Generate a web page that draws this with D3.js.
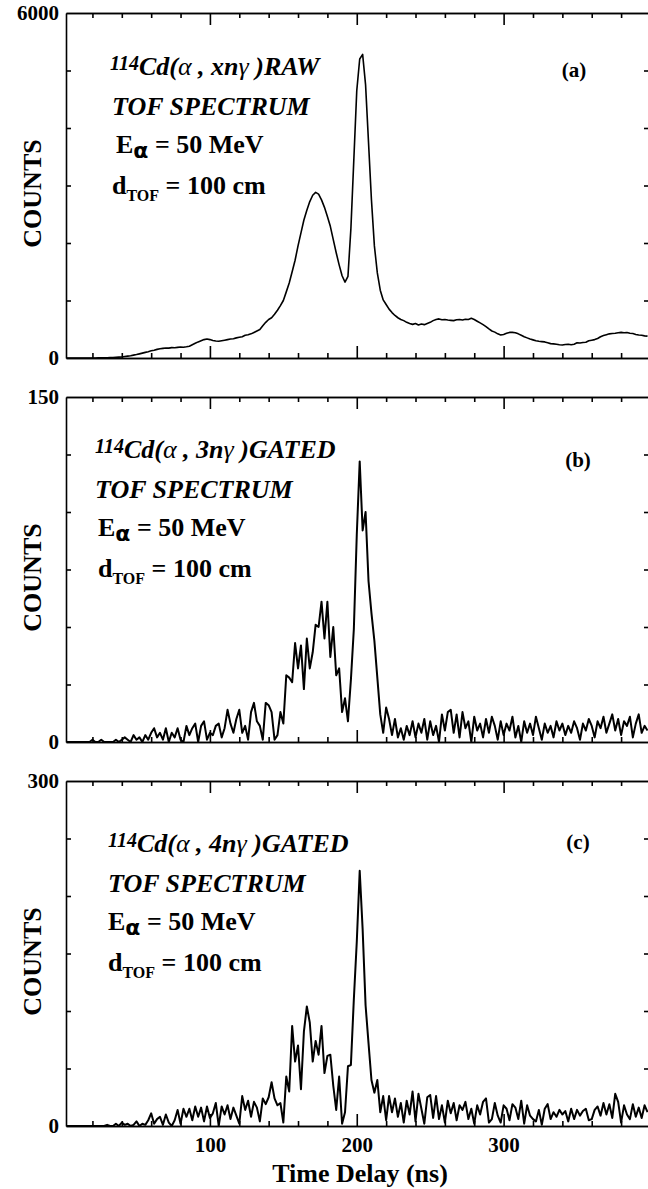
<!DOCTYPE html>
<html>
<head>
<meta charset="utf-8">
<script src="https://cdn.jsdelivr.net/npm/d3@7"></script>
<style>
  body { margin: 0; background: #fff; }
  svg { display: block; font-family: "Liberation Serif", "Times New Roman", serif; }
</style>
</head>
<body>
<div id="chart"></div>
<script>
// counts per 2 ns bin, first bin centred at 2 ns
const binStart = 2;
const binWidth = 2;

const countsRaw = [
  0, 0, 0, 0, 0, 0, 0, 0, 0, 0,
  0, 2, 3, 4, 5, 6, 8, 12, 15, 18,
  25, 32, 40, 50, 60, 72, 85, 98, 110, 125,
  135, 150, 160, 168, 175, 172, 180, 178, 185, 190,
  188, 195, 205, 230, 255, 280, 300, 320, 330, 320,
  305, 295, 290, 300, 310, 320, 330, 335, 350, 360,
  370, 395, 405, 420, 445, 470, 495, 560, 620, 670,
  700, 760, 830, 910, 1000, 1150, 1305, 1500, 1700, 1950,
  2175, 2400, 2570, 2720, 2830, 2880, 2850, 2750, 2620, 2460,
  2290, 2060, 1830, 1620, 1430, 1320, 1420, 2250, 3450, 4650,
  5200, 5280, 4750, 3750, 2750, 1950, 1480, 1180, 1010, 930,
  850, 790, 740, 700, 670, 650, 620, 600, 585, 600,
  575, 590, 580, 600, 620, 650, 670, 680, 665, 670,
  660, 655, 650, 665, 670, 660, 675, 670, 690, 670,
  640, 610, 580, 545, 505, 470, 450, 420, 400, 410,
  430, 445, 445, 440, 420, 395, 370, 350, 330, 315,
  300, 290, 285, 280, 265, 250, 245, 240, 230, 225,
  235, 240, 230, 240, 265, 262, 270, 275, 300, 310,
  320, 340, 370, 390, 405, 420, 425, 430, 440, 445,
  440, 442, 430, 425, 410, 400, 395, 385, 380
];

const counts3n = [
  0, 0, 0, 0, 0, 0, 0, 0, 0, 1,
  0, 0, 1, 0, 0, 0, 0, 1, 0, 1,
  2, 1, 0, 3, 1, 2, 0, 3, 1, 4,
  6, 2, 4, 1, 6, 0, 4, 2, 6, 1,
  0, 7, 3, 6, 8, 0, 7, 9, 1, 4,
  3, 7, 8, 2, 6, 14, 8, 4, 10, 14,
  4, 7, 1, 13, 17, 9, 7, 1, 17, 16,
  13, 1, 3, 13, 8, 29, 28, 26, 43, 32,
  42, 23, 45, 32, 39, 51, 50, 61, 45, 61,
  37, 50, 29, 32, 13, 19, 9, 27, 49, 90,
  122, 92, 100, 70, 56, 44, 28, 12, 4, 15,
  10, 3, 10, 2, 6, 1, 7, 3, 9, 2,
  8, 4, 10, 1, 9, 3, 7, 0, 12, 5,
  13, 14, 4, 12, 2, 13, 6, 9, 0, 11,
  5, 8, 2, 10, 4, 11, 7, 1, 9, 3,
  8, 5, 11, 2, 7, 0, 9, 4, 8, 3,
  11, 6, 1, 8, 4, 7, 2, 9, 5, 8,
  3, 7, 4, 9, 6, 1, 8, 5, 10, 7,
  2, 9, 6, 11, 4, 8, 12, 5, 10, 3,
  9, 7, 11, 2, 8, 12, 4, 7, 5
];

const counts4n = [
  0, 0, 0, 0, 0, 0, 0, 0, 0, 0,
  0, 0, 0, 0, 1, 0, 0, 2, 0, 3,
  1, 2, 0, 1, 4, 0, 2, 1, 5, 11,
  2, 6, 8, 1, 10, 3, 0, 5, 14, 2,
  15, 8, 15, 5, 17, 8, 16, 4, 17, 7,
  11, 20, 0, 17, 10, 18, 6, 16, 9, 2,
  26, 14, 22, 8, 21, 16, 4, 24, 19, 25,
  38, 24, 18, 20, 3, 43, 30, 87, 56, 70,
  32, 82, 104, 90, 56, 74, 62, 87, 46, 61,
  62, 35, 14, 43, 2, 12, 52, 53, 110, 160,
  222, 171, 105, 72, 40, 29, 40, 12, 26, 5,
  26, 12, 24, 8, 20, 3, 22, 10, 30, 4,
  28, 15, 2, 25, 27, 7, 26, 6, 18, 3,
  22, 11, 20, 5, 18, 14, 21, 6, 15, 2,
  18, 10, 21, 24, 3, 6, 20, 9, 3, 18,
  15, 5, 19, 16, 6, 22, 2, 18, 9, 6,
  4, 14, 1, 15, 19, 6, 12, 8, 14, 10,
  13, 4, 15, 6, 14, 9, 13, 15, 5, 6,
  14, 17, 9, 20, 10, 19, 7, 28, 21, 3,
  18, 10, 6, 19, 8, 16, 7, 18, 12
];

const xMajorTicks = [100, 200, 300];
const xMinorTicks = [20, 40, 60, 80, 120, 140, 160, 180, 220, 240, 260, 280, 320, 340, 360, 380];
const yMaxes = [6000, 150, 300];
const yTicksRaw = [0, 1000, 2000, 3000, 4000, 5000, 6000];
const yTicks3n = [0, 25, 50, 75, 100, 125, 150];
const yTicks4n = [0, 50, 100, 150, 200, 250, 300];
const panelTags = ["(a)", "(b)", "(c)"];
const channels = ["xn", "3n", "4n"];
const gateLabels = ["RAW", "GATED", "GATED"];

const W = 648, H = 1189;
const left = 66, right = 649;
const panelTops = [13, 397, 781];
const panelH = 345;
const textX = [[110, 112, 116, 112], [95, 95, 98, 98], [108, 108, 108, 108]];
const textTop = [62, 61, 71];
const tagX = [574, 578, 578];
const tagY = [64, 70, 68];

const svg = d3.select("#chart").append("svg")
  .attr("width", W).attr("height", H);

const x = d3.scaleLinear().domain([2, 399]).range([left, right]);

const series = [countsRaw, counts3n, counts4n];
const yTickSets = [yTicksRaw, yTicks3n, yTicks4n];

function styleAxis(g) {
  g.selectAll("path, line").attr("stroke", "#000").attr("stroke-width", 1.6);
}

series.forEach((counts, i) => {
  const top = panelTops[i];
  const g = svg.append("g").attr("transform", `translate(0,${top})`);
  const y = d3.scaleLinear().domain([0, yMaxes[i]]).range([panelH, 0]);
  const inner = yTickSets[i].slice(1, -1);

  g.append("clipPath").attr("id", "clip" + i)
    .append("rect").attr("x", left).attr("y", 0).attr("width", right - left).attr("height", panelH);

  // frame with inward ticks
  g.append("g").attr("transform", `translate(0,${panelH})`)
    .call(d3.axisBottom(x).tickValues(xMinorTicks).tickSize(-5).tickSizeOuter(0).tickFormat(""))
    .call(styleAxis);
  g.append("g").attr("transform", `translate(0,${panelH})`)
    .call(d3.axisBottom(x).tickValues(xMajorTicks).tickSize(-12).tickSizeOuter(0).tickFormat(""))
    .call(styleAxis);
  g.append("g")
    .call(d3.axisTop(x).tickValues(xMinorTicks).tickSize(-5).tickSizeOuter(0).tickFormat(""))
    .call(styleAxis);
  g.append("g")
    .call(d3.axisTop(x).tickValues(xMajorTicks).tickSize(-12).tickSizeOuter(0).tickFormat(""))
    .call(styleAxis);
  g.append("g").attr("transform", `translate(${left},0)`)
    .call(d3.axisLeft(y).tickValues(inner).tickSize(-5).tickSizeOuter(0).tickFormat(""))
    .call(styleAxis);
  g.append("g").attr("transform", `translate(${right},0)`)
    .call(d3.axisRight(y).tickValues(inner).tickSize(-5).tickSizeOuter(0).tickFormat(""))
    .call(styleAxis);

  // y labels only at 0 and max
  const yl = g.append("g").attr("transform", `translate(${left},0)`)
    .call(d3.axisLeft(y).tickValues([0, yMaxes[i]]).tickSize(0).tickPadding(7).tickFormat(d3.format("d")));
  yl.select(".domain").remove();
  yl.selectAll("text").attr("font-family", "Liberation Serif").attr("font-weight", "bold")
    .attr("font-size", 21).attr("fill", "#000");

  // spectrum
  const line = d3.line()
    .x((d, k) => x(binStart + k * binWidth))
    .y(d => y(d));
  g.append("path").datum(counts)
    .attr("clip-path", `url(#clip${i})`)
    .attr("fill", "none").attr("stroke", "#000")
    .attr("stroke-width", i === 0 ? 1.6 : 2)
    .attr("stroke-linejoin", "round")
    .attr("d", line);

  // COUNTS label
  g.append("text")
    .attr("transform", `translate(41,${panelH / 2 + 8}) rotate(-90)`)
    .attr("text-anchor", "middle").attr("font-weight", "bold").attr("font-size", 26)
    .text("COUNTS");

  // panel tag
  g.append("text").attr("x", tagX[i]).attr("y", tagY[i])
    .attr("text-anchor", "middle").attr("font-weight", "bold").attr("font-size", 21)
    .text(panelTags[i]);

  // annotation block
  const fs = 26;
  const t1 = g.append("text").attr("x", textX[i][0]).attr("y", textTop[i])
    .attr("font-weight", "bold").attr("font-style", "italic").attr("font-size", fs);
  t1.append("tspan").attr("font-size", 20).attr("dy", -5).text("114");
  t1.append("tspan").attr("dy", 5).text("Cd(");
  t1.append("tspan").attr("font-weight", "normal").text("α");
  t1.append("tspan").text(" , ");
  t1.append("tspan").text(channels[i]);
  t1.append("tspan").attr("font-weight", "normal").text("γ");
  t1.append("tspan").text(" )" + gateLabels[i]);

  g.append("text").attr("x", textX[i][1]).attr("y", textTop[i] + 40)
    .attr("font-weight", "bold").attr("font-style", "italic").attr("font-size", fs)
    .text("TOF SPECTRUM");

  const t3 = g.append("text").attr("x", textX[i][2]).attr("y", textTop[i] + 78)
    .attr("font-weight", "bold").attr("font-size", fs);
  t3.append("tspan").text("E");
  t3.append("tspan").attr("font-family", "DejaVu Sans").attr("font-size", 22).attr("dy", 5).text("α");
  t3.append("tspan").attr("dy", -5).text(" = 50 MeV");

  const t4 = g.append("text").attr("x", textX[i][3]).attr("y", textTop[i] + 119)
    .attr("font-weight", "bold").attr("font-size", fs);
  t4.append("tspan").text("d");
  t4.append("tspan").attr("font-size", 16).attr("dy", 7).text("TOF");
  t4.append("tspan").attr("dy", -7).text(" = 100 cm");

  if (i === 2) {
    const xl = g.append("g").attr("transform", `translate(0,${panelH})`)
      .call(d3.axisBottom(x).tickValues(xMajorTicks).tickSize(0).tickPadding(11).tickFormat(d3.format("d")));
    xl.select(".domain").remove();
    xl.selectAll("text").attr("font-family", "Liberation Serif").attr("font-weight", "bold")
      .attr("font-size", 21).attr("fill", "#000");
    g.append("text").attr("x", 360).attr("y", panelH + 56)
      .attr("text-anchor", "middle").attr("font-weight", "bold").attr("font-size", 26)
      .text("Time Delay (ns)");
  }
});
</script>
</body>
</html>
